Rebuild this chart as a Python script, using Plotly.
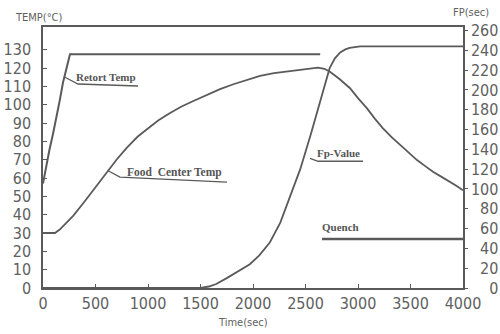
import plotly.graph_objects as go

# ---- data ----
retort_t = [0, 30, 60, 95, 130, 160, 190, 225, 257, 2640]
retort_temp = [57, 66.5, 75, 84, 93, 102.5, 112, 120, 127.5, 127.5]

food_t = [0, 114, 162, 228, 289, 400, 479, 606, 700, 797, 900, 987, 1100, 1210, 1320,
          1432, 1560, 1686, 1820, 1940, 2067, 2200, 2300, 2448, 2540, 2619, 2680,
          2733, 2824, 2924, 3000, 3086, 3160, 3238, 3320, 3400, 3480, 3562, 3640,
          3714, 3800, 3876, 3940, 4000]
food_temp = [30, 30, 32, 36, 39.5, 47.5, 53.5, 63, 70, 76.5, 82.5, 86.5, 91.5, 95.5, 99,
             102, 105.5, 108.5, 111.3, 113.5, 115.7, 117.2, 118, 119, 119.8, 120.2, 119.6,
             118, 114, 109, 103.6, 98, 92.4, 87.1, 82.3, 78, 73.8, 69.8, 66.5,
             63.4, 60.5, 58, 55.7, 53.3]

fp_t = [0, 1500, 1580, 1650, 1750, 1880, 1970, 2060, 2160, 2260, 2350, 2450, 2550,
        2640, 2730, 2780, 2830, 2880, 2920, 3020, 4000]
fp_val = [0, 0, 1.5, 4, 10, 18, 24, 33, 46, 66, 92, 120, 155, 189, 222, 232, 238, 241,
          242.5, 244, 244]

quench_t = [2657, 4000]
quench_fp = [49.5, 49.5]

x_ticks = [0, 500, 1000, 1500, 2000, 2500, 3000, 3500, 4000]
temp_ticks = list(range(0, 140, 10))
fp_ticks = list(range(0, 280, 20))
# right-axis labels are right-aligned in the reference: pad with figure spaces
fp_ticktext = [f"{v:>3}".replace(" ", "\u2007") for v in fp_ticks]

LINE = "#5a5a5a"
TXT = "#606060"
TICKFONT = dict(family="Liberation Sans Narrow, DejaVu Sans Condensed, sans-serif",
                size=16, color=TXT)
LBLFONT = dict(family="Liberation Serif, DejaVu Serif, serif", size=11, color="#555")
AXFONT = dict(family="DejaVu Sans Condensed, sans-serif", size=11, color=TXT)

fig = go.Figure()
fig.add_trace(go.Scatter(x=retort_t, y=retort_temp, mode="lines",
                         line=dict(color=LINE, width=2), hoverinfo="skip"))
fig.add_trace(go.Scatter(x=food_t, y=food_temp, mode="lines",
                         line=dict(color=LINE, width=1.8), hoverinfo="skip"))
fig.add_trace(go.Scatter(x=fp_t, y=fp_val, mode="lines", yaxis="y2",
                         line=dict(color=LINE, width=1.8), hoverinfo="skip"))
fig.add_trace(go.Scatter(x=quench_t, y=quench_fp, mode="lines", yaxis="y2",
                         line=dict(color=LINE, width=2.5), hoverinfo="skip"))

# leader lines for labels
leaders = [
    ("y", [210, 333, 905], [115, 111.3, 110.2]),
    ("y", [620, 733, 1752], [64.0, 60.5, 57.8]),
    ("y2", [2543, 2620, 3048], [131, 128, 128]),
]
for ax, xs, ys in leaders:
    fig.add_trace(go.Scatter(x=xs, y=ys, mode="lines", yaxis=ax,
                             line=dict(color=LINE, width=1.3), hoverinfo="skip"))

fig.add_annotation(x=600, y=115, text="<b>Retort Temp</b>", showarrow=False,
                   font=LBLFONT, xref="x", yref="y")
fig.add_annotation(x=1250, y=63, text="<b>Food  Center Temp</b>", showarrow=False,
                   font=dict(LBLFONT, size=11.5), xref="x", yref="y")
fig.add_annotation(x=2810, y=136, text="<b>Fp-Value</b>", showarrow=False,
                   font=LBLFONT, xref="x", yref="y2")
fig.add_annotation(x=2838, y=62, text="<b>Quench</b>", showarrow=False,
                   font=LBLFONT, xref="x", yref="y2")

fig.add_annotation(text="TEMP(°C)", xref="paper", yref="paper", x=-0.01, y=1.038,
                   xanchor="center", yanchor="middle", showarrow=False, font=AXFONT)
fig.add_annotation(text="FP(sec)", xref="paper", yref="paper", x=1.019, y=1.054,
                   xanchor="center", yanchor="middle", showarrow=False, font=AXFONT)
fig.add_annotation(text="Time(sec)", xref="paper", yref="paper", x=0.476, y=-0.134,
                   xanchor="center", yanchor="middle", showarrow=False, font=AXFONT)

fig.update_layout(
    width=500, height=334,
    margin=dict(l=43, r=37, t=27, b=46),
    paper_bgcolor="white", plot_bgcolor="white",
    showlegend=False,
    xaxis=dict(range=[0, 4000], tickvals=x_ticks, ticks="inside", ticklen=4,
               tickcolor=LINE, showline=True, linecolor=LINE, linewidth=1.5,
               mirror=True, showgrid=False, zeroline=False, tickfont=TICKFONT,
               automargin=False),
    yaxis=dict(range=[0, 142.4], tickvals=temp_ticks, ticks="inside", ticklen=4,
               tickcolor=LINE, showline=True, linecolor=LINE, linewidth=1.5,
               showgrid=False, zeroline=False, tickfont=TICKFONT, ticklabelstandoff=7,
               automargin=False),
    yaxis2=dict(range=[0, 263.6], tickvals=fp_ticks, ticktext=fp_ticktext,
                overlaying="y", side="right",
                ticks="outside", ticklen=3, tickcolor=LINE, showline=True,
                linecolor=LINE, linewidth=1.5, showgrid=False, zeroline=False,
                tickfont=TICKFONT, automargin=False),
)

fig.write_html("out.html")
